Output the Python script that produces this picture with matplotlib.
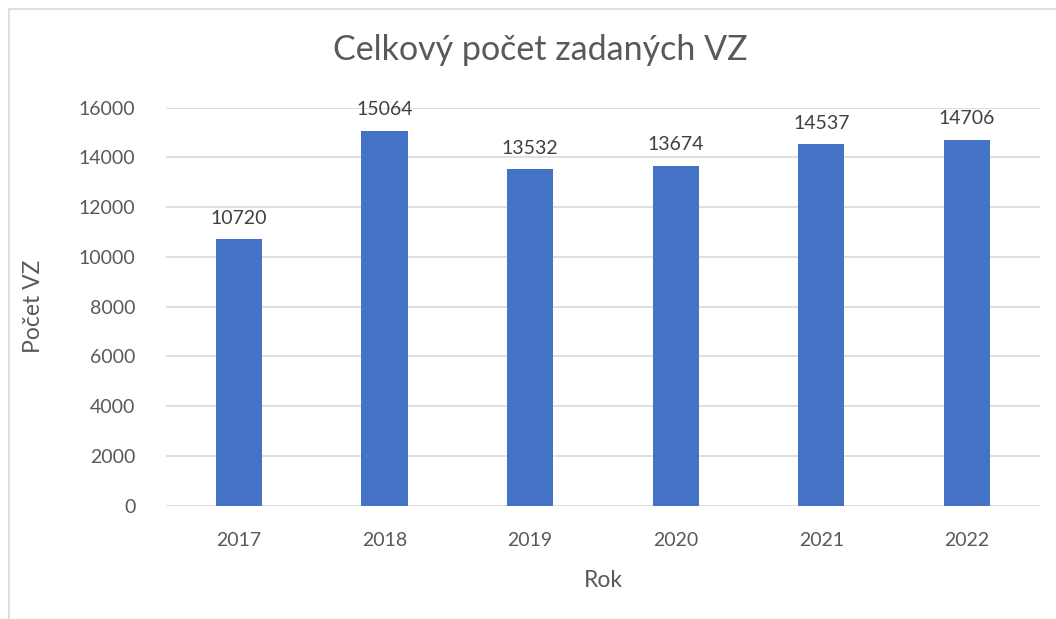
import matplotlib.pyplot as plt
from matplotlib.patches import Rectangle

# Data
years = ["2017", "2018", "2019", "2020", "2021", "2022"]
counts = [10720, 15064, 13532, 13674, 14537, 14706]

plt.rcParams['font.family'] = ['Lato', 'DejaVu Sans']
grey = "#595959"

fig = plt.figure(figsize=(10.56, 6.19), dpi=100)
ax = fig.add_axes([0.1572, 0.183, 0.8276, 0.643])

# chart frame (light border around chart area)
fig.patches.append(Rectangle((9 / 1056, -0.1), 1.2, 1 - 9 / 619 + 0.1,
                             transform=fig.transFigure, fill=False,
                             edgecolor="#d9d9d9", linewidth=1.2))

x = range(len(years))
bars = ax.bar(x, counts, width=0.316, color="#4472C4", zorder=3)
for xi, v in zip(x, counts):
    ax.annotate(str(v), (xi, v), xytext=(0, 9), textcoords="offset points",
                ha="center", va="bottom", fontsize=14, color="#404040",
                annotation_clip=False)

ax.set_xlim(-0.5, len(years) - 0.5)
ax.set_ylim(0, 16000)
ax.set_yticks(range(0, 16001, 2000))
ax.set_xticks(list(x))
ax.set_xticklabels(years)
ax.yaxis.grid(True, color="#d9d9d9", linewidth=1.2, zorder=0)
for s in ax.spines.values():
    s.set_visible(False)
ax.tick_params(length=0, labelsize=14, labelcolor=grey)
ax.tick_params(axis="y", pad=22)
ax.tick_params(axis="x", pad=19)

ax.set_xlabel("Rok", fontsize=16.5, color=grey, labelpad=15)
ax.set_ylabel("Počet VZ", fontsize=16.5, color=grey, labelpad=25)
fig.text(540 / 1056, 1 - 50 / 619, "Celkový počet zadaných VZ", ha="center",
         va="center", fontsize=24.5, color=grey)

fig.savefig("out.png", dpi=100)
